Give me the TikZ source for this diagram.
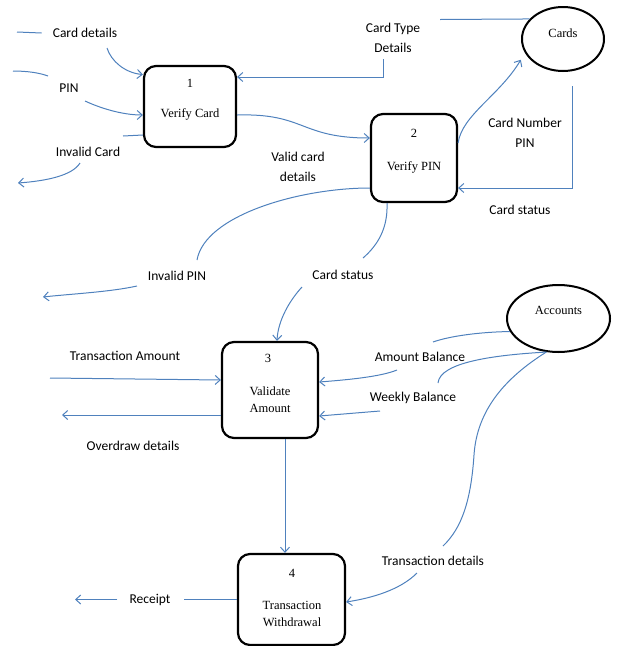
\documentclass[tikz,border=0pt]{standalone}
\usepackage{fontspec}
\usepackage{tikz}
\usetikzlibrary{arrows.meta,shapes.geometric}
\newfontfamily\flowfont{Carlito}
\newfontfamily\procfont{Liberation Serif}
\definecolor{flowblue}{RGB}{79,129,189}

\begin{document}
\begin{tikzpicture}[
	x=1pt, y=-1pt,
	process/.style={draw, line width=2.2pt, rounded corners=12pt},
	store/.style={draw, ellipse, line width=2pt, inner sep=0pt},
	proctxt/.style={font=\procfont\fontsize{12.5}{17}\selectfont, align=center, inner sep=1pt},
	flowtxt/.style={font=\flowfont\fontsize{13.5}{20}\selectfont, align=center, inner sep=1pt},
	flow/.style={draw=flowblue, line width=1pt},
	>={Straight Barb[length=5pt,width=9pt]}
	]
	\useasboundingbox (0,0) rectangle (617,646);
	
	% processes and stores
	\node[process, minimum width=92pt, minimum height=81pt] (p1) at (190,106.5) {};
	\node[proctxt] (n1) at (190,83) {1};
	\node[proctxt] (t1) at (190,114.5) {Verify Card};
	\node[process, minimum width=86pt, minimum height=88pt] (p2) at (414,158) {};
	\node[proctxt] (n2) at (414,133) {2};
	\node[proctxt] (t2) at (414,167) {Verify PIN};
	\node[process, minimum width=96pt, minimum height=96pt] (p3) at (270,390) {};
	\node[proctxt] (n3) at (268,358) {3};
	\node[proctxt] (t3) at (270,399.5) {Validate\\Amount};
	\node[process, minimum width=107pt, minimum height=91pt] (p4) at (291.5,599.5) {};
	\node[proctxt] (n4) at (292,573) {4};
	\node[proctxt] (t4) at (292,613.5) {Transaction\\Withdrawal};
	\node[store, minimum width=82pt, minimum height=64pt,
		label={[proctxt,yshift=6pt]center:Cards}] (cards) at (563,39) {};
	\node[store, minimum width=103pt, minimum height=67pt,
		label={[proctxt,yshift=8pt]center:Accounts}] (acc) at (558.5,318.5) {};
	
	% flow labels
	\node[flowtxt] (cd) at (85,33) {Card details};
	\node[flowtxt] (pin) at (69,88) {PIN};
	\node[flowtxt] (icd) at (88,152) {Invalid Card};
	\node[flowtxt] (ctd) at (393,38) {Card Type\\Details};
	\node[flowtxt] (vcd) at (298,167) {Valid card\\details};
	\node[flowtxt] (cnp) at (525,132.5) {Card Number\\PIN};
	\node[flowtxt] (cst) at (520,210) {Card status};
	\node[flowtxt] (ipn) at (177,276) {Invalid PIN};
	\node[flowtxt] (csl) at (343,275) {Card status};
	\node[flowtxt] (tam) at (125,356) {Transaction Amount};
	\node[flowtxt] (odd) at (133,446) {Overdraw details};
	\node[flowtxt] (abl) at (420,357) {Amount Balance};
	\node[flowtxt] (wbl) at (413,398) {Weekly Balance};
	\node[flowtxt] (tdl) at (433,561) {Transaction details};
	\node[flowtxt] (rc) at (150,599.5) {Receipt};
	
	% free ends
	\coordinate (cdA) at (17,32);   \coordinate (cdB) at (107,48);
	\coordinate (pnA) at (13,71);   \coordinate (pnB) at (48,76);   \coordinate (pnC) at (85,101);
	\coordinate (icA) at (123,136); \coordinate (icB) at (80,163);  \coordinate (icC) at (18,183);
	\coordinate (ctA) at (440,19.5); \coordinate (ctB) at (383,59);
	\coordinate (ipA) at (197,260); \coordinate (ipB) at (137,286); \coordinate (ipC) at (43,297);
	\coordinate (csA) at (363,258); \coordinate (csB) at (302,287);
	\coordinate (taA) at (50,378);  \coordinate (odA) at (62,415);
	\coordinate (abA) at (433,342); \coordinate (abB) at (397,370);
	\coordinate (wbA) at (438,383); \coordinate (wbB) at (380,411);
	\coordinate (tdA) at (443,546); \coordinate (tdB) at (417,573);
	\coordinate (rcA) at (75,599.5);
	
	\draw[flow] (cdA) -- ([xshift=-10pt]cd.west);
	\draw[flow,->] (cdB) .. controls (111,61) and (125,73) .. ([yshift=32pt]p1.west);
	\draw[flow] (pnA) .. controls (28,71) and (40,73) .. (pnB);
	\draw[flow,->] (pnC) .. controls (100,108) and (122,115) .. ([yshift=-8.5pt]p1.west);
	\draw[flow] ([yshift=-28.5pt]p1.west) -- (icA);
	\draw[flow,->] (icB) .. controls (72,176) and (45,181) .. (icC);
	\draw[flow] (cards.149) -- (ctA);
	\draw[flow,->] (ctB) |- ([yshift=29.5pt]p1.east);
	\draw[flow,->] ([yshift=-8.5pt]p1.east) .. controls (305,113) and (300,138) .. ([yshift=20pt]p2.west);
	\draw[flow,->,shorten >=8pt] ([yshift=15pt]p2.east) .. controls (462,115) and (500,95) .. (cards.200);
	\draw[flow,->] ([xshift=9pt,yshift=-14pt]cards.south) |- ([yshift=-30pt]p2.east);
	\draw[flow] ([yshift=-30pt]p2.west) .. controls (300,188) and (205,215) .. (ipA);
	\draw[flow,->] (ipB) .. controls (110,292) and (70,294) .. (ipC);
	\draw[flow] ([xshift=-27pt]p2.south) .. controls (388,228) and (378,245) .. (csA);
	\draw[flow,->] (csB) .. controls (290,300) and (278,320) .. ([xshift=7pt]p3.north);
	\draw[flow,->] (taA) -- ([yshift=10pt]p3.west);
	\draw[flow,->] ([yshift=-25pt]p3.west) -- (odA);
	\draw[flow] (acc.195) .. controls (480,332) and (450,336) .. (abA);
	\draw[flow,->] (abB) .. controls (380,377) and (345,380) .. ([yshift=8pt]p3.east);
	\draw[flow] (acc.250) .. controls (495,355) and (440,362) .. (wbA);
	\draw[flow,->] (wbB) -- ([yshift=-26pt]p3.east);
	\draw[flow] (acc.250) .. controls (505,378) and (477,410) .. (474,455)
		.. controls (471,500) and (462,528) .. (tdA);
	\draw[flow,->] (tdB) .. controls (400,590) and (372,598) .. ([yshift=-2.5pt]p4.east);
	\draw[flow,->] ([xshift=15pt]p3.south) -- ([xshift=15pt]p3.south |- p4.north);
	\draw[flow] (p4.west) -- ([xshift=12pt]rc.east);
	\draw[flow,->] ([xshift=-11pt]rc.west) -- (rcA);
\end{tikzpicture}
\end{document}
